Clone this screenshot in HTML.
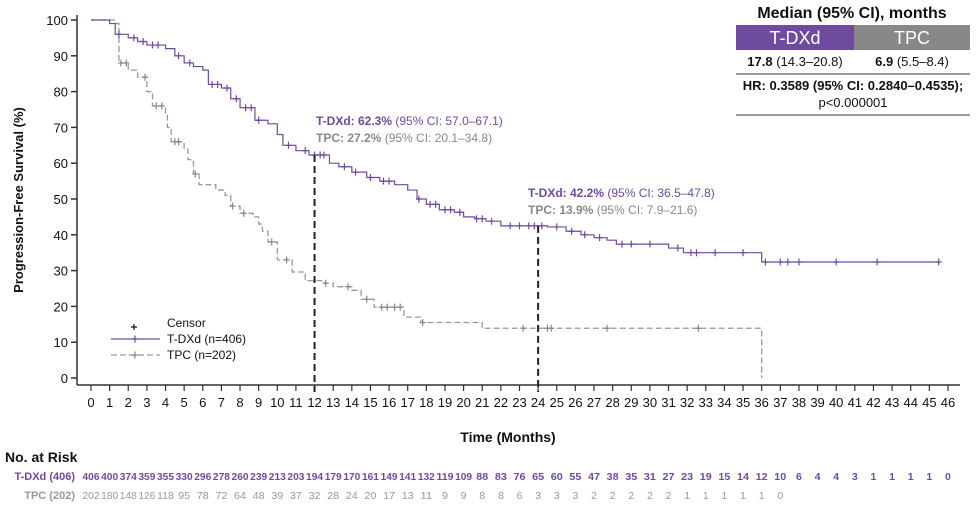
<!DOCTYPE html>
<html><head><meta charset="utf-8"><style>
body{margin:0;background:#fff;}
svg{display:block;font-family:"Liberation Sans",sans-serif;}
</style></head><body>
<svg id="c" width="977" height="507" viewBox="0 0 977 507"></svg>
<script>
const months=[...Array(47).keys()];
const yTicks=[0,10,20,30,40,50,60,70,80,90,100];
const tdxdT=[0,1,1.3,2,2.5,3,4,4.5,5,5.5,6,6.3,7,7.5,8,8.8,9.5,10,10.3,11,11.7,12.8,13.3,14,14.8,15.5,16.3,17,17.5,18,18.7,19.5,20,20.6,21.2,22,24.5,25.5,26.3,27,27.7,28.2,31,31.8,36];
const tdxdS=[100,99,96,95,94,93,92,90,88,87,86,82,81,78,75.5,72,71,68,65,63.5,62.3,60,59,57.5,56,55,54,52.5,50,48.5,47,46.3,45,44.5,43.8,42.5,42.2,41,40,39.2,38.5,37.4,36.3,35,32.4];
const tdxdEnd=45.5;
const tdxdCens=[1.5,2.3,2.8,3.3,3.6,4.7,5.3,6.5,6.8,7.3,7.8,8.3,8.6,9,10.6,11.5,12,12.3,12.5,13.6,14.2,15,15.7,16,17.6,18.2,18.5,19,19.3,19.8,20.7,21,21.5,22.5,23,23.5,23.8,24.2,25,25.8,26.5,27.3,28.5,29,30,31.5,32.2,32.5,33.5,35,36.2,37,37.4,38,40,42.2,45.5];
const tpcT=[0,1.3,1.5,2,2.5,3,3.3,4,4.1,4.3,5,5.2,5.5,5.8,6.7,7.2,7.5,8,8.7,9,9.2,9.5,10,10.8,11.5,12.5,13,14,14.5,15.2,16.8,17.7,21];
const tpcS=[100,99,88,86,84,80,76,74,70,66,64,61,57,54,52.5,51,48,46,45,43,41,38,33,29.6,27.2,26.5,25.5,24.5,22,19.8,17,15.5,13.9];
const tpcEnd=36;
const tpcCens=[1.6,1.9,2.9,3.5,3.8,4.5,4.7,5.6,7.6,8.2,9.7,10.5,12.6,13.8,14.8,15.6,15.9,16.3,16.6,17.8,23.2,24.5,24.7,27.7,32.6];
const riskT=[406,400,374,359,355,330,296,278,260,239,213,203,194,179,170,161,149,141,132,119,109,88,83,76,65,60,55,47,38,35,31,27,23,19,15,14,12,10,6,4,4,3,1,1,1,1,0];
const riskP=[202,180,148,126,118,95,78,72,64,48,39,37,32,28,24,20,17,13,11,9,9,8,8,6,3,3,3,2,2,2,2,2,1,1,1,1,1,0];

const svg=document.getElementById('c');
const NS='http://www.w3.org/2000/svg';
const X=t=>91+t*18.63, Y=s=>378-s*3.58;
const PUR='#6f4b9f';
function mk(tag,attrs,parent){const e=document.createElementNS(NS,tag);for(const k in attrs)e.setAttribute(k,attrs[k]);(parent||svg).appendChild(e);return e;}
function txt(x,y,s,attrs,parent){const e=mk('text',Object.assign({x:x,y:y},attrs),parent);e.textContent=s;return e;}

let e=mk('line',{x1:77,y1:15,x2:77,y2:385,stroke:'#333','stroke-width':1.5});


e=mk('line',{x1:77,y1:385,x2:960,y2:385,stroke:'#333','stroke-width':1.5});


yTicks.forEach(v=>{
  mk('line',{x1:71,x2:77,y1:Y(v),y2:Y(v),stroke:'#333','stroke-width':1.5});
  e=txt(68,Y(v)+5,String(v),{'font-size':13,'text-anchor':'end',fill:'#111'});
  
  
});
months.forEach(m=>{
  mk('line',{x1:X(m),x2:X(m),y1:385,y2:391,stroke:'#333','stroke-width':1.2});
  e=txt(X(m),407,String(m),{'font-size':13,'text-anchor':'middle',fill:'#111'});
  
  
});
e=txt(0,0,'Progression-Free Survival (%)',{'font-size':13,'font-weight':'bold','text-anchor':'middle',transform:'translate(23,200) rotate(-90)',fill:'#111'});


e=txt(508,442,'Time (Months)',{'font-size':14,'font-weight':'bold','text-anchor':'middle',fill:'#111'});



function stepPath(T,S,end){let d='M'+X(T[0])+','+Y(S[0]);for(let i=1;i<T.length;i++){d+=' H'+X(T[i])+' V'+Y(S[i]);}d+=' H'+X(end);return d;}
function survAt(T,S,t){let s=S[0];for(let i=0;i<T.length;i++)if(T[i]<=t)s=S[i];return s;}
e=mk('path',{d:stepPath(tpcT,tpcS,tpcEnd)+' V'+Y(0),fill:'none',stroke:'#999','stroke-width':1.3,'stroke-dasharray':'6,3'});


e=mk('path',{d:stepPath(tdxdT,tdxdS,tdxdEnd),fill:'none',stroke:PUR,'stroke-width':1.2});


function cens(T,S,C,col,name){C.forEach(t=>{const x=X(t),y=Y(survAt(T,S,t));
  const g=mk('path',{d:`M${x-3},${y}H${x+3}M${x},${y-3.5}V${y+3.5}`,stroke:col,'stroke-width':1.2});
  
  });}
cens(tpcT,tpcS,tpcCens,'#888','tpc-censor');
cens(tdxdT,tdxdS,tdxdCens,PUR,'tdxd-censor');

[12,24].forEach(m=>{
  const l=mk('line',{x1:X(m),x2:X(m),y1:Y(survAt(tdxdT,tdxdS,m)),y2:392,stroke:'#222','stroke-width':2,'stroke-dasharray':'7,4'});
  
  
});
function ann(x,y,a,b,c,d){
  let t=mk('text',{x:x,y:y,'font-size':12,fill:PUR});
  t.innerHTML=`<tspan font-weight="bold">${a}</tspan> ${b}`;
  
  
  t=mk('text',{x:x,y:y+17,'font-size':12,fill:'#888'});
  t.innerHTML=`<tspan font-weight="bold">${c}</tspan> ${d}`;
  
  
}
ann(316,125,'T-DXd: 62.3%','(95% CI: 57.0–67.1)','TPC: 27.2%',' (95% CI: 20.1–34.8)');
ann(528,197,'T-DXd: 42.2%','(95% CI: 36.5–47.8)','TPC: 13.9%',' (95% CI: 7.9–21.6)');

const lg=mk('g',{});


mk('path',{d:'M131,327H137M134,324V330',stroke:'#111','stroke-width':1.2},lg);
txt(167,327,'Censor',{'font-size':12,fill:'#111'},lg);
mk('line',{x1:111,x2:160,y1:339,y2:339,stroke:PUR,'stroke-width':1.2},lg);
mk('path',{d:'M132,339H138M135,335.5V342.5',stroke:PUR,'stroke-width':1.2},lg);
txt(167,343,'T-DXd (n=406)',{'font-size':12,fill:'#111'},lg);
mk('line',{x1:111,x2:160,y1:355,y2:355,stroke:'#999','stroke-width':1.3,'stroke-dasharray':'6,3'},lg);
mk('path',{d:'M132,355H138M135,351.5V358.5',stroke:'#888','stroke-width':1.2},lg);
txt(167,359,'TPC (n=202)',{'font-size':12,fill:'#111'},lg);

e=txt(5,462,'No. at Risk',{'font-size':14,'font-weight':'bold',fill:'#111'});


txt(75,480,'T-DXd (406)',{'font-size':11,'font-weight':'bold','text-anchor':'end',fill:PUR});
txt(75,499,'TPC (202)',{'font-size':11,'font-weight':'bold','text-anchor':'end',fill:'#999'});
function riskAttrs(v,base){const s=String(v);const a=Object.assign({'text-anchor':'middle','font-size':10.5},base);
  if(s.length===3){a.textLength=17;a.lengthAdjust='spacingAndGlyphs';}
  else if(s.length===2){a.textLength=12;a.lengthAdjust='spacingAndGlyphs';}
  return a;}
riskT.forEach((v,i)=>{e=txt(X(i),480,String(v),riskAttrs(v,{'font-weight':'bold',fill:PUR}));
  
  });
riskP.forEach((v,i)=>{e=txt(X(i),499,String(v),riskAttrs(v,{fill:'#999'}));
  
  });

const tb=mk('g',{});


txt(852,18,'Median (95% CI), months',{'font-size':16,'font-weight':'bold','text-anchor':'middle',fill:'#111'},tb);
mk('rect',{x:736,y:25,width:118,height:25,fill:'#6f4b9f'},tb);
mk('rect',{x:854,y:25,width:116,height:25,fill:'#888'},tb);
txt(795,44,'T-DXd',{'font-size':18,'text-anchor':'middle',fill:'#fff'},tb);
txt(912,44,'TPC',{'font-size':18,'text-anchor':'middle',fill:'#fff'},tb);
let t1=mk('text',{x:795,y:66,'font-size':13,'text-anchor':'middle',fill:'#111'},tb);t1.innerHTML='<tspan font-weight="bold">17.8</tspan> (14.3–20.8)';
let t2=mk('text',{x:912,y:66,'font-size':13,'text-anchor':'middle',fill:'#111'},tb);t2.innerHTML='<tspan font-weight="bold">6.9</tspan> (5.5–8.4)';
mk('line',{x1:736,x2:970,y1:74,y2:74,stroke:'#333','stroke-width':1},tb);
txt(853,90,'HR: 0.3589 (95% CI: 0.2840–0.4535);',{'font-size':13,'font-weight':'bold','text-anchor':'middle',fill:'#111'},tb);
txt(853,107,'p<0.000001',{'font-size':13,'text-anchor':'middle',fill:'#111'},tb);
mk('line',{x1:736,x2:970,y1:115,y2:115,stroke:'#333','stroke-width':1},tb);
</script>
</body></html>
